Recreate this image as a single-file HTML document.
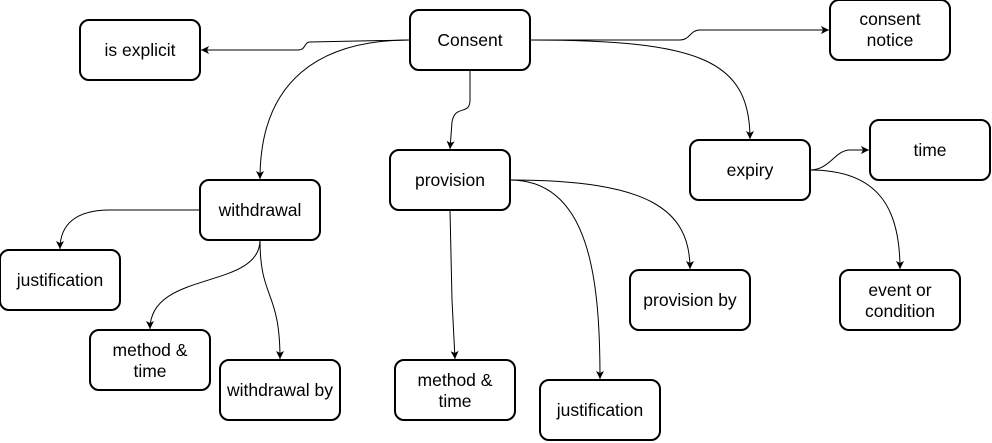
<!DOCTYPE html>
<html><head><style>
html,body{margin:0;padding:0;background:#fff;}
svg{display:block;}
text{font-family:"Liberation Sans",sans-serif;font-size:17.5px;fill:#000;text-anchor:middle;}
</style></head><body>
<svg width="992" height="443" viewBox="0 0 992 443" xmlns="http://www.w3.org/2000/svg">
<defs>
<marker id="a" markerWidth="10" markerHeight="10" refX="8" refY="5" orient="auto" markerUnits="userSpaceOnUse">
<path d="M0,1 L8,5 L0,9 L2,5 Z" fill="#000"/>
</marker>
</defs>
<g fill="none" stroke="#000" stroke-width="1" marker-end="url(#a)">
<path d="M410,40 L310,42 C304,42 306,50 298,50 L201,50"/>
<path d="M410,40 C320,40 260,80 260,179"/>
<path d="M470,70 L470,100 C470,116 455,104 452,122 L450,149"/>
<path d="M530,40 L680,40 C690,40 690,30 700,30 L829,30"/>
<path d="M530,40 C700,40 750,60 750,139"/>
<path d="M810,170 C830,170 835,150 850,150 L869,150"/>
<path d="M810,170 C880,170 900,210 900,269"/>
<path d="M200,210 L110,210 C75,210 60,225 60,249"/>
<path d="M260,240 C260,290 150,270 150,329"/>
<path d="M260,240 C260,300 280,290 280,359"/>
<path d="M450,210 L452,300 L455,359"/>
<path d="M510,180 C590,180 600,280 600,379"/>
<path d="M510,180 C650,180 690,210 690,269"/>
</g>
<g fill="#fff" stroke="#000" stroke-width="2">
<rect x="410" y="10" width="120" height="60" rx="9"/>
<rect x="80" y="20" width="120" height="60" rx="9"/>
<rect x="830" y="0" width="120" height="60" rx="9"/>
<rect x="200" y="180" width="120" height="60" rx="9"/>
<rect x="390" y="150" width="120" height="60" rx="9"/>
<rect x="690" y="140" width="120" height="60" rx="9"/>
<rect x="870" y="120" width="120" height="60" rx="9"/>
<rect x="0" y="250" width="120" height="60" rx="9"/>
<rect x="90" y="330" width="120" height="60" rx="9"/>
<rect x="220" y="360" width="120" height="60" rx="9"/>
<rect x="395" y="360" width="120" height="60" rx="9"/>
<rect x="540" y="380" width="120" height="60" rx="9"/>
<rect x="630" y="270" width="120" height="60" rx="9"/>
<rect x="840" y="270" width="120" height="60" rx="9"/>
</g>
<text x="470" y="46">Consent</text>
<text x="140" y="56">is explicit</text>
<text x="890" y="25">consent</text><text x="890" y="46">notice</text>
<text x="260" y="216">withdrawal</text>
<text x="450" y="186">provision</text>
<text x="750" y="176">expiry</text>
<text x="930" y="156">time</text>
<text x="60" y="286">justification</text>
<text x="150" y="356">method &amp;</text><text x="150" y="377">time</text>
<text x="280" y="396">withdrawal by</text>
<text x="455" y="386">method &amp;</text><text x="455" y="407">time</text>
<text x="600" y="416">justification</text>
<text x="690" y="306">provision by</text>
<text x="900" y="296">event or</text><text x="900" y="317">condition</text>
</svg>
</body></html>
